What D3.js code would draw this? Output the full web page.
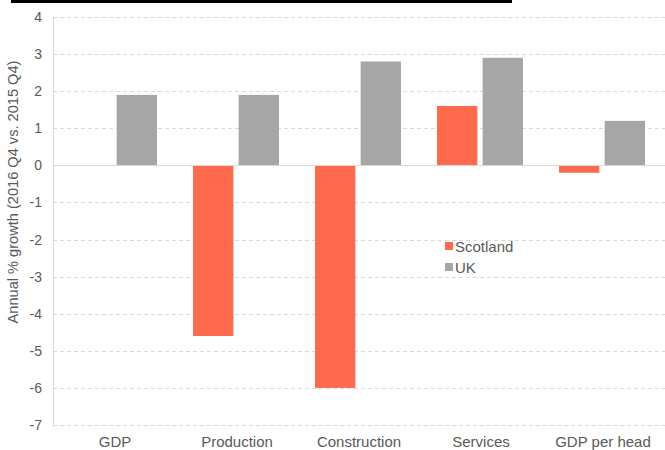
<!DOCTYPE html>
<html><head><meta charset="utf-8">
<script src="https://cdn.jsdelivr.net/npm/d3@7"></script>
<style>body{margin:0;background:#fff;} svg{display:block;font-family:"Liberation Sans",Arial,sans-serif;}</style>
</head><body><svg id="c" width="665" height="450"></svg>
<script>
const categories = ["GDP","Production","Construction","Services","GDP per head"];
const scotland = [0, -4.6, -6.0, 1.6, -0.2];
const uk = [1.9, 1.9, 2.8, 2.9, 1.2];
const seriesNames = ["Scotland","UK"];
const colors = ["#FE6A4B","#A6A6A6"];
const yTicks = [4,3,2,1,0,-1,-2,-3,-4,-5,-6,-7];
const yTitle = "Annual % growth (2016 Q4 vs. 2015 Q4)";

(function(){
const svg = d3.select("#c");
const pL = 53, pR = 663, pT = 17, pB = 425;
const y = d3.scaleLinear().domain([-7,4]).range([pB, pT]);
const x0 = d3.scaleBand().domain(categories).range([pL, pR]).paddingInner(0).paddingOuter(0);
const x1 = d3.scaleBand().domain(seriesNames).range([18, x0.bandwidth()-18]).paddingInner(10/86);

svg.append("rect").attr("x",11).attr("y",0).attr("width",501).attr("height",3).attr("fill","#000");

svg.append("g").selectAll("line").data(yTicks.filter(d=>d!==0)).join("line")
  .attr("x1",pL).attr("x2",665).attr("y1",d=>Math.round(y(d))+0.5).attr("y2",d=>Math.round(y(d))+0.5)
  .attr("stroke","#D9D9D9").attr("stroke-dasharray","4,3").attr("stroke-width",1);

svg.append("line").attr("x1",pL+0.5).attr("x2",pL+0.5).attr("y1",y(4)).attr("y2",y(-7))
  .attr("stroke","#D9D9D9");

const yAxis = d3.axisLeft(y).tickValues(yTicks).tickSize(0).tickPadding(11).tickFormat(d=>String(d));
const ga = svg.append("g").attr("transform",`translate(${pL},0)`).call(yAxis);
ga.select(".domain").remove();
ga.selectAll("text").attr("fill","#595959").style("font-size","14px").style("font-family","'Liberation Sans',Arial,sans-serif");

const data = categories.map((c,i)=>({c, vals:[scotland[i], uk[i]]}));
const g = svg.append("g");
data.forEach(d=>{
  d.vals.forEach((v,j)=>{
    if (v === 0) return;
    g.append("rect")
      .attr("x", x0(d.c) + x1(seriesNames[j]))
      .attr("width", x1.bandwidth())
      .attr("y", y(Math.max(0,v)))
      .attr("height", Math.abs(y(v)-y(0)))
      .attr("fill", colors[j]);
  });
});

svg.append("line").attr("x1",pL).attr("x2",665).attr("y1",Math.round(y(0))+0.5).attr("y2",Math.round(y(0))+0.5)
  .attr("stroke","#D9D9D9");

const xAxis = d3.axisBottom(x0).tickSize(0).tickPadding(0);
const gx = svg.append("g").attr("transform",`translate(1,${pB+11})`).call(xAxis);
gx.select(".domain").remove();
gx.selectAll("text").attr("fill","#595959").style("font-size","15px").style("font-family","'Liberation Sans',Arial,sans-serif");

svg.append("text").attr("transform",`translate(18,192) rotate(-90)`)
  .attr("text-anchor","middle").attr("fill","#595959").style("font-size","14.6px").text(yTitle);

const lg = svg.append("g").attr("transform","translate(445,242)");
seriesNames.forEach((s,i)=>{
  lg.append("rect").attr("x",0).attr("y",i*21).attr("width",8).attr("height",8).attr("fill",colors[i]);
  lg.append("text").attr("x",10).attr("y",i*21+9.5).attr("fill","#595959").style("font-size","15px").text(s);
});
})();
</script></body></html>
